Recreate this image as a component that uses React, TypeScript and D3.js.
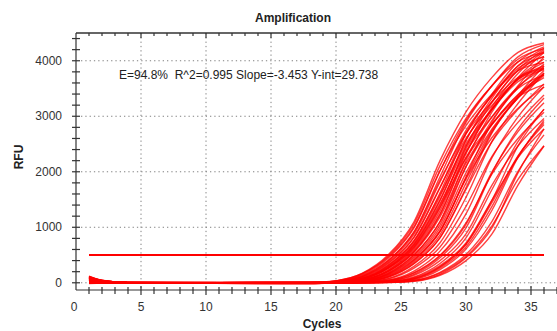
import React from "react";
import * as d3 from "d3";

// cycles at which each well's RFU is listed
const CYCLES = [1, 2, 4, 18, 20, 22, 24, 26, 28, 30, 32, 34, 36];

// one row per well, values in RFU at the CYCLES above
const CURVES: number[][] = [
  [110, 40, 5, 0, 35, 170, 500, 1100, 2200, 3080, 3700, 4150, 4320],
  [60, 25, 3, -5, 34, 163, 480, 1060, 2110, 2960, 3550, 3980, 4150],
  [20, 10, 0, 5, 32, 156, 460, 1010, 2020, 2830, 3400, 3820, 3970],
  [90, 35, 4, -10, 23, 118, 395, 920, 1910, 2890, 3550, 4070, 4290],
  [40, 15, 2, 0, 22, 112, 375, 875, 1815, 2745, 3370, 3865, 4075],
  [-10, 0, 0, -5, 21, 106, 356, 828, 1720, 2600, 3195, 3665, 3860],
  [75, 30, 3, 5, 15, 80, 310, 760, 1620, 2680, 3400, 3980, 4250],
  [30, 12, 1, -10, 14, 77, 298, 730, 1555, 2573, 3264, 3821, 4080],
  [100, 35, 4, 0, 14, 74, 285, 699, 1490, 2466, 3128, 3662, 3910],
  [10, 5, 0, -15, 13, 70, 273, 669, 1426, 2358, 2992, 3502, 3740],
  [55, 20, 2, 5, 10, 53, 230, 620, 1350, 2450, 3250, 3840, 4200],
  [85, 30, 3, -5, 10, 51, 221, 595, 1296, 2352, 3120, 3686, 4032],
  [-15, -5, 0, 0, 9, 49, 212, 570, 1242, 2254, 2990, 3533, 3864],
  [45, 18, 2, -10, 9, 47, 202, 546, 1188, 2156, 2860, 3379, 3696],
  [120, 45, 5, 5, 6, 35, 170, 500, 1100, 2200, 3080, 3700, 4150],
  [25, 10, 1, -5, 6, 33, 162, 475, 1045, 2090, 2926, 3515, 3943],
  [65, 25, 3, 0, 5, 32, 153, 450, 990, 1980, 2772, 3330, 3735],
  [5, 3, 0, -15, 4, 23, 118, 395, 920, 1910, 2890, 3550, 4070],
  [95, 35, 4, 5, 4, 22, 111, 371, 865, 1795, 2717, 3337, 3826],
  [35, 14, 2, -5, 4, 20, 104, 348, 810, 1681, 2543, 3124, 3582],
  [70, 28, 3, 0, 3, 14, 76, 295, 722, 1539, 2546, 3230, 3781],
  [-5, 0, 0, -10, 3, 13, 68, 264, 646, 1377, 2278, 2890, 3383],
  [50, 20, 2, 5, 2, 9, 49, 212, 570, 1242, 2254, 2990, 3533],
  [105, 40, 5, -5, 2, 8, 42, 184, 496, 1080, 1960, 2600, 3072],
  [15, 6, 0, 0, 1, 5, 32, 153, 450, 990, 1980, 2772, 3330],
  [80, 30, 3, -10, 1, 5, 28, 136, 400, 880, 1760, 2464, 2960],
  [40, 16, 2, 5, 1, 4, 20, 104, 348, 810, 1681, 2543, 3124],
  [0, 2, 0, -5, 1, 3, 18, 92, 308, 718, 1490, 2254, 2769],
  [60, 24, 3, 0, 0, 3, 13, 68, 264, 646, 1377, 2278, 2890],
  [115, 42, 5, -15, 0, 3, 14, 74, 285, 699, 1490, 2466, 3128],
  [20, 8, 1, 5, 0, 2, 8, 43, 189, 508, 1107, 2009, 2665],
  [50, 20, 2, -5, 0, 2, 8, 40, 175, 471, 1026, 1862, 2470],
  [90, 32, 4, 0, 0, 1, 5, 28, 136, 400, 880, 1760, 2464],
  [-10, -3, 0, -10, 0, 1, 5, 32, 153, 450, 990, 1980, 2772],
  [70, 26, 3, 0, 28, 141, 439, 990, 2014, 2925, 3553, 4028, 4219],
  [30, 12, 1, -5, 18, 96, 342, 815, 1712, 2701, 3371, 3904, 4142],
  [95, 36, 4, 5, 12, 63, 254, 649, 1396, 2411, 3126, 3675, 3972],
  [10, 4, 0, -10, 8, 44, 200, 560, 1225, 2325, 3165, 3770, 4175],
  [55, 22, 2, 0, 5, 27, 132, 412, 929, 1891, 2746, 3335, 3781],
  [-5, 0, 0, 5, 17, 89, 318, 756, 1589, 2507, 3128, 3623, 3843],
  [85, 30, 3, -5, 13, 67, 270, 690, 1485, 2565, 3325, 3910, 4225],
  [40, 15, 2, 0, 26, 130, 403, 909, 1850, 2687, 3263, 3699, 3875],
  [110, 40, 5, -10, 7, 40, 180, 504, 1103, 2093, 2849, 3393, 3758],
  [20, 8, 1, 5, 4, 18, 96, 342, 815, 1712, 2701, 3371, 3904],
  [65, 25, 3, -15, 5, 30, 145, 425, 935, 1870, 2618, 3145, 3528],
  [0, 2, 0, 0, 13, 67, 260, 638, 1361, 2251, 2856, 3343, 3570],
  [75, 28, 3, -5, 2, 7, 38, 172, 482, 1054, 2000, 2722, 3242],
  [35, 14, 2, 5, 1, 3, 16, 81, 289, 689, 1447, 2284, 2850],
  [100, 36, 4, 0, 0, 3, 11, 59, 238, 607, 1307, 2257, 2926],
];

const THRESHOLD = 500;
const THRESHOLD_CYCLES = [1, 36];
const X_TICKS = [0, 5, 10, 15, 20, 25, 30, 35];
const Y_TICKS = [0, 1000, 2000, 3000, 4000];
const TITLE = "Amplification";
const X_LABEL = "Cycles";
const Y_LABEL = "RFU";
const NOTE = "E=94.8%  R^2=0.995 Slope=-3.453 Y-int=29.738";

const W = 557;
const H = 331;
const left = 76;
const right = 557;
const top = 33;
const bottom = 290;
const font = "'Liberation Sans', Arial, sans-serif";

export default function App() {
  const x = d3.scaleLinear().domain([0, 37]).range([left, right]);
  const y = d3.scaleLinear().domain([-130, 4500]).range([bottom, top]);

  const line = d3
    .line<number>()
    .x((_, i) => x(CYCLES[i]))
    .y((d) => y(d))
    .curve(d3.curveMonotoneX);

  const minorX = d3.range(1, 38);
  const minorY = d3.range(0, 4500, 200);

  return (
    <svg
      width={W}
      height={H}
      style={{ position: "absolute", left: 0, top: 0, background: "#fff" }}
      fontFamily={font}
    >
      {/* grid */}
      <g stroke="#808080" strokeWidth={1} strokeDasharray="1.3,3">
        {X_TICKS.filter((t) => t > 0).map((t) => (
          <line key={"gx" + t} x1={x(t)} x2={x(t)} y1={top} y2={bottom} />
        ))}
        {Y_TICKS.map((t) => (
          <line key={"gy" + t} x1={left + 5} x2={right} y1={y(t)} y2={y(t)} />
        ))}
      </g>

      {/* curves */}
      <g fill="none" stroke="#ff0000" strokeWidth={1.4} strokeOpacity={0.75}>
        {CURVES.map((c, i) => (
          <path key={i} d={line(c) || ""} />
        ))}
      </g>

      {/* threshold */}
      <line
        x1={x(THRESHOLD_CYCLES[0])}
        x2={x(THRESHOLD_CYCLES[1])}
        y1={y(THRESHOLD)}
        y2={y(THRESHOLD)}
        stroke="#ff0000"
        strokeWidth={2}
      />

      {/* frame and ticks */}
      <g stroke="#333" strokeWidth={1.2}>
        <line x1={left} x2={right} y1={top} y2={top} strokeWidth={1.6} />
        <line x1={left} x2={left} y1={top} y2={bottom} />
        <line x1={left} x2={right} y1={bottom} y2={bottom} />
        {minorX.map((t) => (
          <line key={"tt" + t} x1={x(t)} x2={x(t)} y1={top} y2={top + (t % 5 === 0 ? 5 : 3)} />
        ))}
        {minorX.map((t) => (
          <line
            key={"bt" + t}
            x1={x(t)}
            x2={x(t)}
            y1={bottom - (t % 5 === 0 ? 4 : 3)}
            y2={bottom + (t % 5 === 0 ? 5 : 4)}
          />
        ))}
        {minorY.map((t) => (
          <line key={"lt" + t} x1={left - 4} x2={left + 4} y1={y(t)} y2={y(t)} />
        ))}
      </g>

      {/* tick labels */}
      <g fill="#333" fontSize={12}>
        {Y_TICKS.map((t) => (
          <text key={"yl" + t} x={left - 14} y={y(t)} dy="0.35em" textAnchor="end">
            {t}
          </text>
        ))}
        {X_TICKS.map((t) => (
          <text key={"xl" + t} x={x(t) - (t === 0 ? 2 : 0)} y={311} textAnchor="middle">
            {t}
          </text>
        ))}
      </g>

      <text x={293} y={22} textAnchor="middle" fontSize={12} fontWeight="bold" fill="#222">
        {TITLE}
      </text>
      <text x={322} y={328} textAnchor="middle" fontSize={12} fontWeight="bold" fill="#222">
        {X_LABEL}
      </text>
      <text
        transform="translate(23,157) rotate(-90)"
        textAnchor="middle"
        fontSize={12}
        fontWeight="bold"
        fill="#222"
      >
        {Y_LABEL}
      </text>
      <text x={119} y={79} fontSize={12} fill="#222" style={{ whiteSpace: "pre" }}>
        {NOTE}
      </text>
    </svg>
  );
}
